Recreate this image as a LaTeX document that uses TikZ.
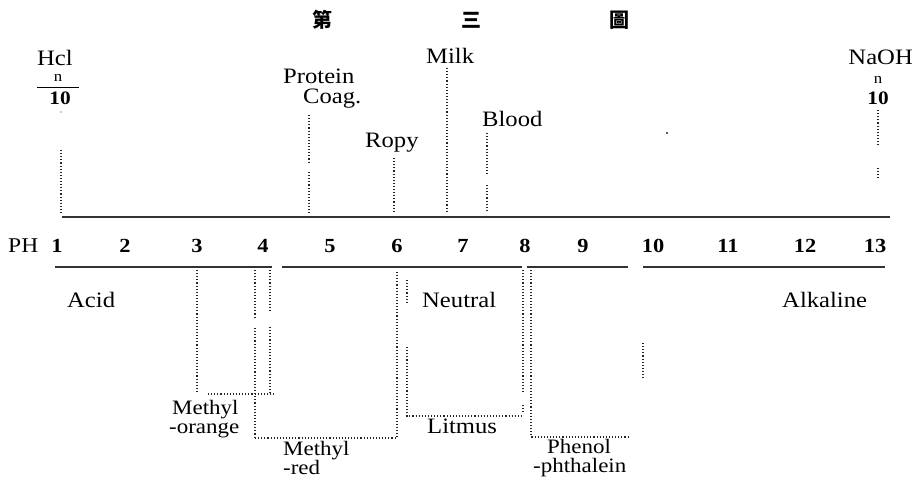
\documentclass[tikz,border=0pt]{standalone}
\usepackage{fontspec}
\setmainfont{Liberation Serif}[FakeStretch=1.12]
\newfontfamily\cjk{Noto Sans CJK TC}
\begin{document}
\begin{tikzpicture}[x=1pt,y=-1pt,
  lbl/.style={inner sep=0pt,anchor=base west,font=\fontsize{22}{24}\selectfont},
  lbltwo/.style={inner sep=0pt,anchor=base west,font=\fontsize{20.5}{22}\selectfont},
  num/.style={inner sep=0pt,anchor=base,font=\fontsize{20}{22}\selectfont\bfseries},
  small/.style={inner sep=0pt,anchor=base,font=\fontsize{15}{16}\selectfont},
  ttl/.style={inner sep=0pt,anchor=center,font=\fontsize{20}{21}\selectfont\cjk\bfseries},
  dots/.style={line width=1.1pt,dash pattern=on 1.1pt off 2pt,black!85},
  rule/.style={line width=1.3pt,black!80}]
\useasboundingbox (0,0) rectangle (915,482);
% title
\node[ttl] (t1) at (322,20) {第};
\node[ttl] (t2) at (471,20) {三};
\node[ttl] (t3) at (619,20) {圖};
% top labels
\node[lbl] (hcl) at (37,65) {Hcl};
\node[small] (hn) at (58,81) {n};
\draw[line width=0.8pt] (37,87) -- (79,87);
\node[num,font=\fontsize{19}{20}\selectfont\bfseries] (h10) at (60,104) {10};
\node[lbl] (prot) at (283,83) {Protein};
\node[lbl] (coag) at (303,103) {Coag.};
\node[lbl] (ropy) at (365,147) {Ropy};
\node[lbl] (milk) at (426,63) {Milk};
\node[lbl] (blood) at (482,126) {Blood};
\node[lbl,anchor=base east] (naoh) at (913,64) {NaOH};
\node[small] (nn) at (878,83) {n};
\node[num,font=\fontsize{19}{20}\selectfont\bfseries] (n10) at (878,104) {10};
% axis lines
\coordinate (tl) at (62,217);
\coordinate (tr) at (890,217);
\draw[rule] (tl) -- (tr);
\draw[rule] (55,267) -- (272,267);
\draw[rule] (282,267) -- (522,267);
\draw[rule] (527,267) -- (628,267);
\draw[rule] (643,267) -- (885,267);
% top dotted markers
\fill[black!85] (61,112) circle (0.7pt);
\draw[dots] (61,150) -- (61,215);
\draw[dots] (309,115) -- (309,163);
\draw[dots] (309,172) -- (309,215);
\draw[dots] (394,158) -- (394,213);
\draw[dots] (447,68) -- (447,212);
\draw[dots] (487,133) -- (487,175);
\draw[dots] (487,185) -- (487,212);
\draw[dots] (878,110) -- (878,147);
\draw[dots] (878,168) -- (878,180);
\fill[black!85] (667,133) circle (1.2pt);
% PH row
\node[inner sep=0pt,anchor=base west,font=\fontsize{21}{22}\selectfont] (ph) at (8,252) {PH};
\foreach \v/\xx in {1/57,2/125,3/197,4/263,5/330,6/397,7/463,8/525,9/583,10/653,11/728,12/805,13/875}
  \node[num] (p\v) at (\xx,252) {\v};
% region labels
\node[lbl] (acid) at (67,307) {Acid};
\node[lbl] (neut) at (422,307) {Neutral};
\node[lbl] (alk) at (782,307) {Alkaline};
% methyl orange
\draw[dots] (197,270) -- (197,393);
\draw[dots] (208,394) -- (275,394);
\draw[dots] (255,270) -- (255,317);
\draw[dots] (255,328) -- (255,438);
\draw[dots] (270,270) -- (270,313);
\draw[dots] (270,327) -- (270,393);
\node[lbltwo] (mo1) at (172,414) {Methyl};
\node[lbltwo] (mo2) at (169,433) {-orange};
% methyl red
\draw[dots] (255,438) -- (397,438);
\draw[dots] (397,272) -- (397,438);
\node[lbltwo] (mr1) at (283,455) {Methyl};
\node[lbltwo] (mr2) at (283,474) {-red};
% litmus
\draw[dots] (407,280) -- (407,302);
\draw[dots] (407,347) -- (407,416) -- (522,416);
\draw[dots] (523,270) -- (523,393);
\draw[dots] (523,405) -- (523,413);
\node[lbl] (lit) at (427,433) {Litmus};
% phenolphthalein
\draw[dots] (531,270) -- (531,437) -- (628,437);
\node[lbltwo] (ph1) at (547,453) {Phenol};
\node[lbltwo] (ph2) at (533,472) {-phthalein};
\draw[dots] (643,343) -- (643,378);
\end{tikzpicture}
\end{document}
